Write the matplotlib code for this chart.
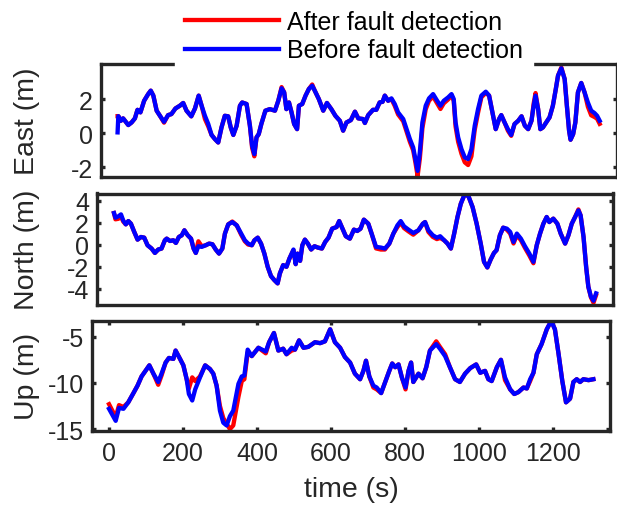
import matplotlib
matplotlib.use("Agg")
import matplotlib.pyplot as plt
from matplotlib.lines import Line2D
from matplotlib.transforms import blended_transform_factory

plt.rcParams["font.family"] = ["Liberation Sans", "DejaVu Sans"]
plt.rcParams["axes.unicode_minus"] = False

# ---- East (m) ----
east_t = [0, 2, 4, 9, 15, 22, 29, 38, 47, 54,
          62, 72, 83, 90, 97, 106, 115, 126, 137, 146,
          157, 169, 178, 187, 200, 210, 220, 228, 237, 246,
          255, 264, 273, 282, 291, 300, 307, 314, 323, 332,
          338, 350, 359, 365, 371, 377, 383, 390, 401, 413,
          427, 436, 445, 452, 458, 465, 472, 479, 487, 492,
          501, 510, 519, 528, 535, 546, 558, 568, 580, 591,
          603, 612, 621, 633, 644, 653, 666, 671, 680, 693,
          702, 711, 719, 725, 734, 743, 752, 761, 775, 784,
          793, 802, 808, 814, 820, 827, 836, 845, 856, 867,
          876, 885, 897, 906, 912, 917, 924, 933, 942, 951,
          960, 969, 978, 987, 999, 1008, 1017, 1026, 1035, 1041,
          1050, 1059, 1068, 1077, 1087, 1096, 1105, 1114, 1123, 1129,
          1134, 1141, 1147, 1154, 1163, 1172, 1181, 1189, 1195, 1204,
          1213, 1219, 1225, 1229, 1236, 1242, 1249, 1258, 1267, 1276,
          1285, 1294, 1301, 1308]
east_before = [0.05, 1.0, 0.93, 0.73, 0.87, 0.67, 0.48, 0.63, 0.87, 1.37,
               1.22, 1.9, 2.29, 2.49, 2.2, 1.32, 1.02, 0.67, 1.06, 1.12,
               1.45, 1.61, 1.77, 1.32, 0.99, 1.45, 2.2, 1.61, 1.02, 0.54,
               -0.1, -0.34, -0.54, 0.34, 1.02, 0.99, 0.34, -0.1, 0.44, 1.61,
               1.8, 1.71, 0.44, -0.73, -1.22, -0.24, -0.05, 0.54, 1.32, 1.41,
               1.32, 1.9, 2.63, 2.39, 1.41, 1.8, 1.22, 0.54, 0.24, 1.61,
               1.71, 2.2, 2.59, 2.78, 2.49, 2.0, 1.32, 1.77, 1.41, 1.02,
               0.73, 0.15, 0.63, 0.77, 1.26, 0.87, 0.83, 0.6, 1.06, 1.37,
               1.37, 1.8, 1.84, 2.2, 1.9, 2.04, 1.71, 1.22, 0.83, 0.24,
               -0.34, -0.83, -1.51, -2.2, -1.12, 0.63, 1.61, 2.04, 2.29, 1.9,
               1.61, 1.9, 2.1, 2.29, 2.0, 0.63, -0.24, -0.93, -1.41, -1.51,
               -0.93, 0.44, 1.41, 2.2, 2.43, 2.2, 1.22, 0.24, 0.83, 1.06,
               0.63, 0.24, -0.1, 0.54, 0.73, 0.99, 0.44, 0.24, 0.73, 1.61,
               2.2, 1.41, 0.24, 0.34, 0.63, 0.93, 1.61, 2.59, 3.37, 3.8,
               3.17, 1.61, 0.15, -0.38, -0.05, 0.63, 2.39, 2.94, 2.39, 1.8,
               1.32, 1.18, 1.02, 0.73]
east_after = [1.0, 1.0, 0.93, 0.73, 0.87, 0.67, 0.48, 0.63, 0.87, 1.37,
              1.22, 1.9, 2.29, 2.49, 2.2, 1.32, 1.02, 0.62, 1.06, 1.12,
              1.45, 1.61, 1.77, 1.32, 0.99, 1.45, 2.2, 1.61, 0.83, 0.4,
              -0.1, -0.34, -0.54, 0.34, 1.02, 0.99, 0.34, -0.1, 0.44, 1.61,
              1.8, 1.71, 0.44, -0.85, -1.35, -0.24, -0.05, 0.54, 1.32, 1.41,
              1.32, 1.9, 2.7, 2.39, 1.41, 1.8, 1.22, 0.54, 0.24, 1.61,
              1.71, 2.2, 2.59, 2.85, 2.49, 2.0, 1.32, 1.77, 1.41, 1.02,
              0.73, 0.15, 0.63, 0.77, 1.26, 0.87, 0.83, 0.6, 1.06, 1.37,
              1.37, 1.8, 1.84, 2.2, 1.9, 2.0, 1.6, 1.1, 0.7, 0.1,
              -0.5, -1.0, -1.7, -2.5, -1.5, 0.3, 1.4, 1.9, 2.15, 1.75,
              1.42, 1.75, 1.98, 2.2, 1.9, 0.4, -0.5, -1.2, -1.7, -1.86,
              -1.35, 0.2, 1.2, 2.1, 2.36, 2.2, 1.22, 0.24, 0.83, 1.06,
              0.63, 0.15, -0.15, 0.54, 0.73, 0.99, 0.44, 0.24, 0.73, 1.75,
              2.35, 1.41, 0.24, 0.34, 0.63, 0.93, 1.61, 2.59, 3.37, 3.85,
              3.17, 1.61, 0.15, -0.38, -0.05, 0.63, 2.39, 2.94, 2.39, 1.55,
              1.05, 0.95, 0.85, 0.55]

# ---- North (m) ----
north_t = [0, 4, 12, 19, 25, 32, 39, 46, 55, 64,
           73, 82, 91, 102, 111, 120, 129, 138, 143, 152,
           161, 168, 176, 184, 191, 200, 209, 216, 222, 229,
           238, 249, 258, 267, 276, 285, 294, 301, 310, 321,
           333, 345, 355, 364, 374, 381, 390, 399, 408, 417,
           426, 435, 444, 450, 459, 468, 476, 487, 493, 498,
           505, 511, 518, 526, 535, 544, 553, 564, 573, 582,
           592, 604, 611, 620, 629, 640, 651, 660, 669, 678,
           690, 699, 711, 724, 735, 747, 758, 769, 778, 787,
           799, 812, 826, 838, 844, 853, 865, 876, 885, 896,
           905, 914, 923, 932, 941, 952, 962, 973, 984, 995,
           1004, 1013, 1022, 1031, 1038, 1047, 1056, 1066, 1075, 1084,
           1093, 1104, 1115, 1127, 1138, 1147, 1156, 1165, 1174, 1181,
           1192, 1203, 1212, 1224, 1233, 1242, 1251, 1260, 1266, 1274,
           1281, 1287, 1294, 1301, 1308]
north_before = [2.87, 2.45, 2.57, 2.75, 2.2, 1.84, 2.14, 1.9, 1.15, 0.45,
                0.69, 0.63, -0.06, -0.36, -0.76, -0.45, -0.36, 0.39, 0.54, 0.33,
                0.39, 0.15, 0.69, 0.85, 1.3, 0.85, 0.54, -0.36, -0.76, -0.15,
                -0.21, -0.06, 0.09, 0.03, -0.45, -0.82, -0.36, 1.0, 1.84, 2.05,
                1.75, 1.0, 0.39, 0.09, -0.06, 0.39, 0.63, 0.09, -0.82, -2.02,
                -2.87, -3.23, -3.53, -2.63, -1.87, -2.02, -1.27, -0.45, -1.78, -0.82,
                -1.48, -0.06, 0.45, 0.09, -0.45, -0.15, -0.27, -0.36, 0.24, 0.63,
                1.45, 1.6, 2.14, 1.45, 0.76, 0.54, 1.36, 1.24, 1.45, 2.27,
                1.9, 1.0, -0.21, -0.27, -0.36, 0.09, 1.0, 1.75, 2.14, 1.66,
                1.36, 1.06, 1.3, 1.9, 2.05, 1.3, 0.85, 0.63, 0.76, 0.39,
                0.09, -0.36, 1.0, 2.51, 3.72, 4.62, 4.38, 3.41, 1.9, 0.09,
                -1.57, -2.08, -1.36, -0.76, -0.51, 0.85, 1.54, 1.45, 1.15, 0.24,
                1.0, 0.54, -0.15, -0.82, -1.57, -0.06, 1.0, 1.9, 2.51, 2.05,
                2.36, 1.9, 1.0, 0.09, 0.85, 1.9, 2.51, 3.11, 2.66, 0.69,
                -2.02, -3.84, -4.74, -5.11, -4.44]
north_after = [2.87, 2.3, 2.35, 2.55, 2.1, 1.84, 2.14, 1.9, 1.15, 0.45,
               0.69, 0.63, -0.06, -0.36, -0.76, -0.45, -0.36, 0.39, 0.54, 0.33,
               0.39, 0.15, 0.69, 0.85, 1.3, 0.85, 0.54, -0.36, -0.76, 0.3,
               -0.15, -0.06, 0.09, 0.03, -0.45, -0.82, -0.36, 1.0, 1.84, 2.1,
               1.75, 0.9, 0.3, 0.0, -0.06, 0.39, 0.63, 0.09, -0.82, -2.02,
               -2.87, -3.23, -3.53, -2.63, -1.87, -2.02, -1.27, -0.5, -1.78, -0.82,
               -1.48, -0.06, 0.45, 0.09, -0.45, -0.15, -0.27, -0.36, 0.24, 0.63,
               1.45, 1.6, 2.14, 1.45, 0.76, 0.54, 1.36, 1.24, 1.45, 2.27,
               1.9, 1.0, -0.35, -0.45, -0.45, 0.09, 1.0, 1.6, 2.0, 1.5,
               1.2, 0.9, 1.3, 1.9, 2.05, 1.15, 0.7, 0.5, 0.6, 0.39,
               0.09, -0.36, 1.0, 2.51, 3.72, 4.62, 4.38, 3.41, 1.9, 0.09,
               -1.57, -2.08, -1.36, -0.76, -0.51, 0.85, 1.54, 1.35, 1.0, 0.1,
               0.85, 0.4, -0.3, -1.0, -1.7, -0.06, 1.0, 1.9, 2.51, 2.05,
               2.36, 1.9, 1.0, 0.09, 0.85, 1.9, 2.51, 3.2, 2.66, 0.69,
               -2.02, -3.84, -4.8, -5.3, -4.6]

# ---- Up (m) ----
up_t = [0, 18, 27, 39, 52, 66, 77, 88, 102, 109,
        120, 133, 142, 153, 162, 174, 180, 192, 201, 210,
        216, 225, 233, 246, 260, 273, 282, 291, 300, 309,
        318, 327, 336, 350, 359, 366, 375, 386, 404, 424,
        433, 446, 458, 471, 480, 494, 503, 514, 526, 539,
        557, 571, 584, 598, 611, 625, 638, 652, 665, 679,
        688, 695, 704, 715, 724, 736, 747, 758, 766, 774,
        783, 792, 802, 810, 817, 823, 837, 848, 858, 868,
        885, 895, 909, 922, 936, 949, 963, 977, 993, 1004,
        1017, 1026, 1035, 1049, 1060, 1071, 1085, 1096, 1107, 1121,
        1130, 1139, 1148, 1157, 1170, 1184, 1196, 1206, 1216, 1226,
        1236, 1247, 1256, 1265, 1274, 1283, 1297, 1310]
up_before = [-12.8, -14.1, -12.7, -12.8, -12.1, -11.1, -10.3, -9.3, -8.5, -8.1,
             -9.0, -9.9, -9.0, -7.8, -7.3, -7.4, -6.5, -7.4, -8.1, -9.6,
             -11.2, -11.9, -10.7, -9.4, -8.1, -8.5, -9.0, -10.3, -13.0, -14.3,
             -14.6, -13.6, -13.0, -10.1, -9.3, -9.2, -6.4, -7.1, -6.2, -6.6,
             -5.6, -4.6, -6.5, -6.3, -6.9, -6.2, -6.4, -5.4, -6.2, -6.1,
             -5.6, -5.7, -5.5, -4.2, -5.6, -6.2, -7.2, -7.8, -9.0, -9.6,
             -8.7, -7.6, -9.3, -10.3, -10.5, -11.1, -9.9, -8.7, -7.9, -8.3,
             -8.0, -9.4, -10.5, -8.7, -7.8, -9.9, -9.0, -9.5, -8.3, -6.5,
             -5.8, -6.3, -7.1, -8.3, -9.6, -9.9, -9.0, -8.4, -8.0, -8.9,
             -8.7, -9.6, -9.8, -8.3, -7.5, -9.4, -10.7, -11.2, -11.0, -10.5,
             -10.6, -9.6, -8.9, -6.9, -5.8, -4.2, -3.3, -4.2, -6.9, -9.8,
             -12.1, -11.7, -9.9, -9.6, -9.9, -9.6, -9.7, -9.6]
up_after = [-12.3, -13.7, -12.4, -12.6, -12.1, -11.1, -10.3, -9.3, -8.5, -8.1,
            -9.0, -10.2, -9.2, -7.8, -7.3, -7.4, -6.5, -7.4, -8.1, -9.6,
            -10.6, -9.4, -9.8, -9.3, -8.1, -8.5, -9.0, -10.3, -12.5, -13.8,
            -14.4, -15.0, -14.6, -11.5, -9.8, -9.6, -6.7, -7.1, -6.2, -6.8,
            -5.6, -4.6, -6.5, -6.3, -6.9, -6.5, -6.4, -5.4, -6.2, -6.1,
            -5.6, -5.7, -5.5, -4.2, -5.6, -6.2, -7.2, -7.8, -9.0, -9.6,
            -8.7, -7.6, -9.3, -10.5, -10.7, -11.1, -9.9, -8.7, -7.9, -8.3,
            -8.0, -9.4, -10.7, -8.7, -7.8, -9.9, -9.0, -9.5, -8.3, -6.5,
            -5.5, -6.1, -6.9, -8.3, -9.6, -9.9, -9.0, -8.4, -8.0, -8.9,
            -8.7, -9.6, -9.8, -8.3, -7.5, -9.7, -10.7, -11.2, -11.0, -10.5,
            -10.6, -9.8, -8.9, -6.9, -5.8, -4.2, -3.3, -4.2, -6.9, -9.8,
            -12.1, -11.7, -9.9, -9.6, -9.9, -9.6, -9.7, -9.6]

labels = ["After fault detection", "Before fault detection"]
time_ticks = [0, 200, 400, 600, 800, 1000, 1200]
ink = "#262626"

W, H = 617, 506
fig = plt.figure(figsize=(W / 100, H / 100), dpi=100)


def px_axes(left, top, right, bottom):
    return fig.add_axes([left / W, 1 - bottom / H, (right - left) / W, (bottom - top) / H])


def panel(ax, t, after, before, name, ylim, yticks, show_x):
    ax.plot(t, after, color="#ff0000", lw=3.1, solid_joinstyle="round")
    ax.plot(t, before, color="#0000ff", lw=3.1, solid_joinstyle="round")
    ax.set_xlim(-45, 1355)
    ax.set_ylim(ylim)
    ax.set_yticks(yticks)
    ax.set_yticklabels([str(v) for v in yticks])
    if show_x:
        ax.set_xticks(time_ticks)
        ax.set_xticklabels([str(v) for v in time_ticks])
    else:
        ax.set_xticks([])
    for sp in ax.spines.values():
        sp.set_linewidth(2.4)
        sp.set_color(ink)
    ax.tick_params(direction="in", length=3, width=2.4, color=ink,
                   labelcolor=ink, labelsize=18, pad=6,
                   top=show_x, right=True)
    ax.tick_params(axis="x", pad=7)
    ax.set_ylabel(name, fontsize=20.5, color=ink)
    ax.yaxis.set_label_coords(40 / W, 0.5,
                              transform=blended_transform_factory(fig.transFigure, ax.transAxes))


ax_e = px_axes(101, 65, 617, 177.5)
panel(ax_e, east_t, east_after, east_before, "East (m)", (-2.53, 4.05), [-2, 0, 2], False)

ax_n = px_axes(97.4, 194.5, 613.4, 306)
panel(ax_n, north_t, north_after, north_before, "North (m)", (-5.5, 4.65), [-4, -2, 0, 2, 4], False)

ax_u = px_axes(92.4, 321.5, 610, 432)
panel(ax_u, up_t, up_after, up_before, "Up (m)", (-15.2, -3.25), [-15, -10, -5], True)
ax_u.set_xlabel("time (s)", fontsize=20.5, color=ink, labelpad=8)

handles = [Line2D([], [], color="#ff0000", lw=3.1),
           Line2D([], [], color="#0000ff", lw=3.1)]
leg = fig.legend(handles, labels, loc="center", bbox_to_anchor=(354 / W, 1 - 37 / H),
                 fontsize=18, frameon=True, fancybox=False, edgecolor="white",
                 facecolor="white", framealpha=1, handlelength=3.76,
                 handletextpad=0.32, labelspacing=0.18, borderpad=0.4,
                 borderaxespad=0)
for txt in leg.get_texts():
    txt.set_color("black")

fig.savefig("out.png", dpi=100)
